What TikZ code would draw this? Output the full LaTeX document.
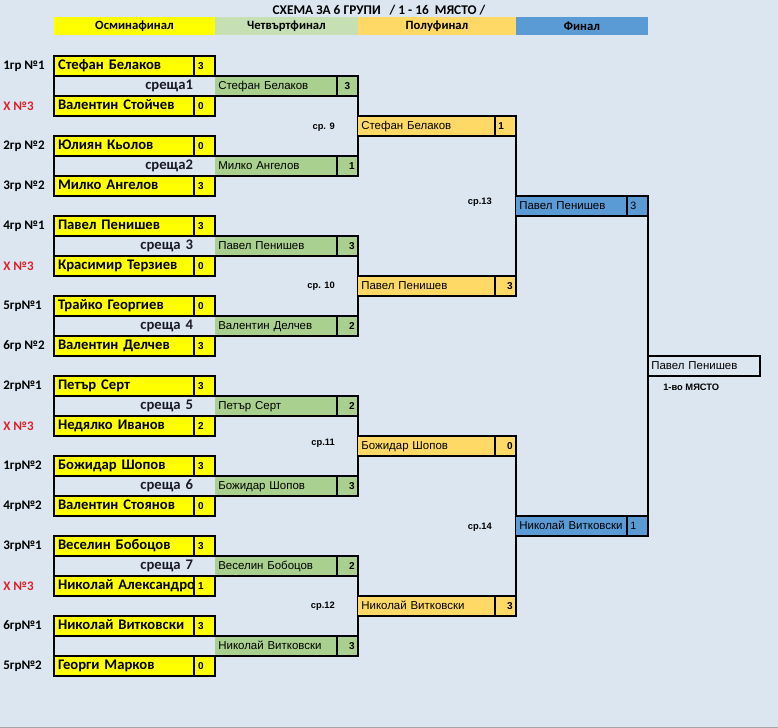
\documentclass[tikz,border=0pt]{standalone}
\usepackage{fontspec}
\setmainfont{Carlito}
\newfontfamily\arf{Liberation Sans}
\definecolor{bg}{HTML}{DCE6F1}
\definecolor{yel}{HTML}{FFFF00}
\definecolor{qfg}{HTML}{A9D08E}
\definecolor{hg}{HTML}{C6E0B4}
\definecolor{org}{HTML}{FFD966}
\definecolor{blu}{HTML}{5B9BD5}
\definecolor{redx}{HTML}{E0202A}
\definecolor{navy}{HTML}{1A1A26}
\tikzset{
 thickline/.style={line width=1.7pt, line cap=rect},
 thinline/.style={line width=0.5pt, draw=gray!55},
 base/.style={anchor=north west, inner ysep=0pt, outer sep=0pt, minimum height=15pt, text height=7pt, text depth=1.5pt},
 frname/.style={base, fill=yel, draw=black, line width=1.7pt, minimum width=105pt, text width=99pt, inner xsep=3pt, align=left, font=\bfseries\fontsize{11}{12}\selectfont},
 frscore/.style={base, fill=yel, draw=black, line width=1.7pt, minimum width=15.75pt, text width=9.75pt, inner xsep=3pt, align=left, font=\arf\bfseries\fontsize{7.5}{8}\selectfont},
 frmid/.style={base, minimum width=120.75pt, text width=87.75pt, inner xsep=16.5pt, align=right, text=navy, font=\bfseries\fontsize{11}{12}\selectfont},
 rc/.style={base, inner xsep=2.5pt, align=left, font=\arf\fontsize{8.6}{9}\selectfont},
 rs/.style={base, minimum width=15.75pt, text width=10.75pt, inner xsep=2.5pt},
 sb/.style={font=\arf\bfseries\fontsize{7.5}{8}\selectfont},
 sr/.style={font=\arf\fontsize{8}{9}\selectfont},
 leftlab/.style={anchor=west, inner sep=0pt, font=\bfseries\fontsize{9.8}{12}\selectfont},
 hdr/.style={anchor=north west, inner sep=0pt, outer sep=0pt, minimum height=13.5pt, font=\bfseries\fontsize{9.5}{11}\selectfont},
 small/.style={anchor=east, inner sep=0pt, font=\arf\bfseries\fontsize{7}{8}\selectfont},
}
\newcommand\frpair[9]{%
 \node[frname] (#1a) at (54,#2) {\makebox[0pt][l]{#3}};
 \node[frscore] (#1as) at (194,#2) {#4};
 \node[frmid] (#1m) at (54,#2+20) {#7};
 \node[frname] (#1b) at (54,#2+40) {\makebox[0pt][l]{#5}};
 \node[frscore] (#1bs) at (194,#2+40) {#6};
 \draw[thickline] (#1a.south west) -- (#1b.north west);
 \draw[thinline] (#1m.north east) -- (#1m.south east);
 \node[leftlab] (#1la) at (3,#2+10) {#8};
 \node[leftlab] (#1lb) at (3,#2+50) {#9};
}
\newcommand\rescell[8]{%
 \node[rc, fill=#5, minimum width={#4*0.75pt}, text width={#4*0.75pt-5pt}] (#1) at (#2,#3) {#6};
 \node[rs, fill=#5, #8] (#1s) at (#1.north east) {#7};
 \draw[thickline] (#1.north west) -- (#1s.north east) -- (#1s.south east) -- (#1.south west);
 \draw[thickline] (#1s.north west) -- (#1s.south west);
}
\newcommand\redx[1]{\textcolor{redx}{#1}}
\begin{document}
\begin{tikzpicture}[x=0.75pt,y=-0.75pt]
\fill[bg] (0,0) rectangle (778,728);
\useasboundingbox (0,0) rectangle (778,728);
\draw[gray!70, line width=0.75pt] (0,727.5) -- (778,727.5);
% title and header
\node[inner sep=0pt, font=\bfseries\fontsize{10}{12}\selectfont] (title) at (379,10) {СХЕМА ЗА 6 ГРУПИ\ \ \ / 1 - 16\ \ МЯСТО /};
\node[hdr, fill=yel, minimum width={161*0.75pt}] (h1) at (54,17) {Осминафинал};
\node[hdr, fill=hg, minimum width={143*0.75pt}] (h2) at (215,17) {Четвъртфинал};
\node[hdr, fill=org, minimum width={158*0.75pt}] (h3) at (358,17) {Полуфинал};
\node[hdr, fill=blu, minimum width={132*0.75pt}] (h4) at (516,17) {Финал};
% first round
\frpair{p1}{56}{Стефан Белаков}{3}{Валентин Стойчев}{0}{среща1}{1гр №1}{\redx{Х №3}}
\frpair{p2}{136}{Юлиян Кьолов}{0}{Милко Ангелов}{3}{среща2}{2гр №2}{3гр №2}
\frpair{p3}{216}{Павел Пенишев}{3}{Красимир Терзиев}{0}{среща 3\hspace{2.5pt}}{4гр №1}{\redx{Х №3}}
\frpair{p4}{296}{Трайко Георгиев}{0}{Валентин Делчев}{3}{среща 4}{5гр№1}{6гр №2}
\frpair{p5}{376}{Петър Серт}{3}{Недялко Иванов}{2}{среща 5}{2гр№1}{\redx{Х №3}}
\frpair{p6}{456}{Божидар Шопов}{3}{Валентин Стоянов}{0}{среща 6}{1гр№2}{4гр№2}
\frpair{p7}{536}{Веселин Бобоцов}{3}{Николай Александро}{1}{среща 7}{3гр№1}{\redx{Х №3}}
\frpair{p8}{616}{Николай Витковски}{3}{Георги Марков}{0}{}{6гр№1}{5гр№2}
% quarterfinals
\rescell{q1}{215}{76}{122}{qfg}{Стефан Белаков}{3}{sb, align=center}
\rescell{q2}{215}{156}{122}{qfg}{Милко Ангелов}{1}{sb, align=right}
\rescell{q3}{215}{236}{122}{qfg}{Павел Пенишев}{3}{sb, align=right}
\rescell{q4}{215}{316}{122}{qfg}{Валентин Делчев}{2}{sb, align=right}
\rescell{q5}{215}{396}{122}{qfg}{Петър Серт}{2}{sb, align=right}
\rescell{q6}{215}{476}{122}{qfg}{Божидар Шопов}{3}{sb, align=right}
\rescell{q7}{215}{556}{122}{qfg}{Веселин Бобоцов}{2}{sb, align=right}
\rescell{q8}{215}{636}{122}{qfg}{Николай Витковски}{3}{sb, align=right}
\draw[thickline] (q1s.north east) -- (q2s.south east);
\draw[thickline] (q3s.north east) -- (q4s.south east);
\draw[thickline] (q5s.north east) -- (q6s.south east);
\draw[thickline] (q7s.north east) -- (q8s.south east);
% semifinals
\rescell{s1}{358}{116}{137}{org}{Стефан Белаков}{1}{sb, align=left}
\rescell{s2}{358}{276}{137}{org}{Павел Пенишев}{3}{sb, align=right}
\rescell{s3}{358}{436}{137}{org}{Божидар Шопов}{0}{sb, align=right}
\rescell{s4}{358}{596}{137}{org}{Николай Витковски}{3}{sb, align=right}
\draw[thickline] (s1s.north east) -- (s2s.south east);
\draw[thickline] (s3s.north east) -- (s4s.south east);
% final
\rescell{f1}{516}{196}{111}{blu}{Павел Пенишев}{3}{sr, align=left}
\rescell{f2}{516}{516}{111}{blu}{Николай Витковски}{1}{sr, align=left}
\draw[thickline] (f1s.north east) -- (f2s.south east);
% champion
\node[rc, draw=black, line width=1.7pt, minimum width={112*0.75pt}, text width={112*0.75pt-5pt}] (ch) at (648,356) {Павел Пенишев};
% match labels
\node[small] (m9) at (335,127) {ср. 9};
\node[small] (m10) at (335,286) {ср. 10};
\node[small] (m11) at (335,443) {ср.11};
\node[small] (m12) at (335,606) {ср.12};
\node[small] (m13) at (492,202) {ср.13};
\node[small] (m14) at (492,527) {ср.14};
\node[small, anchor=west] (place) at (663,387) {1-во МЯСТО};
\end{tikzpicture}
\end{document}
